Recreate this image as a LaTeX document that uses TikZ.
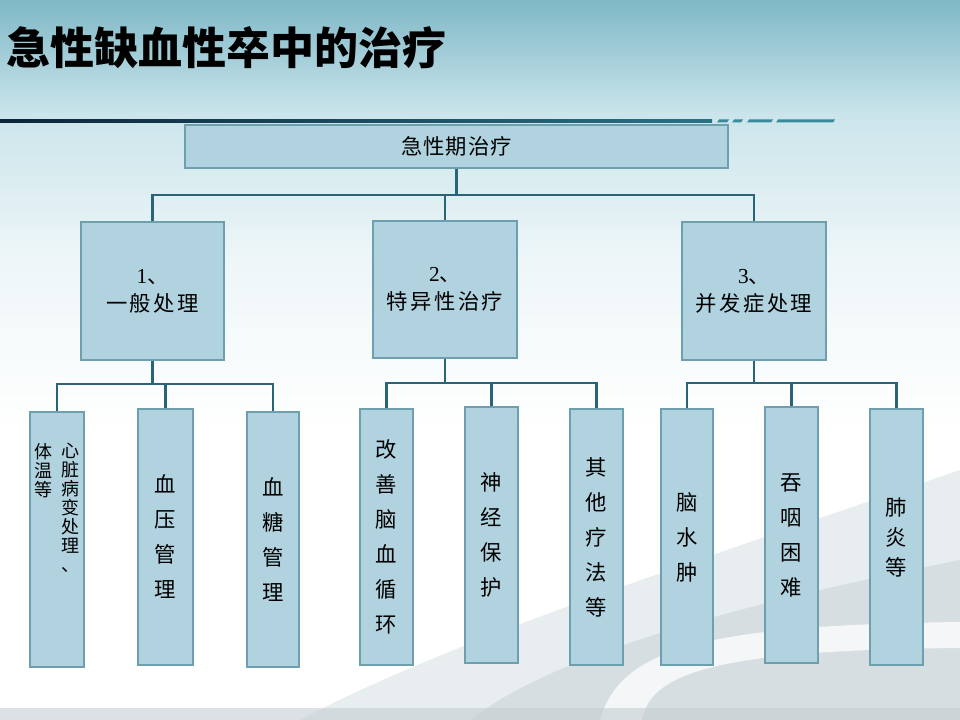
\documentclass[tikz,border=0pt]{standalone}
\usepackage{fontspec}
\setmainfont{Liberation Serif}
\newfontfamily\cjk{Noto Sans CJK SC}
\usetikzlibrary{calc}
\definecolor{connC}{HTML}{2A6479}
\definecolor{boxF}{HTML}{B1D3DF}
\definecolor{boxD}{HTML}{6E9FAE}
\definecolor{bgA}{HTML}{EEF6F8}
\definecolor{bgB}{HTML}{CBE5EB}
\definecolor{bgC}{HTML}{7FB8C7}
\definecolor{tlA}{HTML}{0D2438}
\definecolor{tlB}{HTML}{2A7186}
\definecolor{dashC}{HTML}{3A8A9E}
\definecolor{swA}{HTML}{E8EDEF}
\definecolor{swB}{HTML}{D7DEE1}
\definecolor{swC}{HTML}{C5CED2}
\pgfdeclareverticalshading{bgsh}{100bp}{color(0bp)=(white); color(45bp)=(white); color(57bp)=(bgA); color(67bp)=(bgB); color(75bp)=(bgC); color(100bp)=(bgC)}
\newcommand\gp{\kern1.8pt}
\newcommand\bx[7]{\node[box, #2, minimum width={(#5-#3)*0.75pt}, minimum height={(#6-#4)*0.75pt}] (#1) at ({(#3+#5)/2},{(#4+#6)/2}) {#7};}
\tikzset{
  box/.style={draw=boxD, fill=boxF, line width=0.8pt, inner sep=0pt, align=center,
              font=\cjk\fontsize{16}{26.25}\selectfont},
  lvone/.style={font=\cjk\fontsize{16}{21}\selectfont},
  lvtight/.style={font=\cjk\fontsize{16}{22.5}\selectfont},
  plain/.style={},
  conn/.style={draw=connC, line width=2pt},
  coltext/.style={font=\cjk\fontsize{13.5}{14.25}\selectfont, align=center, inner sep=0pt, anchor=north},
}
\begin{document}
\begin{tikzpicture}[x=0.75pt,y=-0.75pt]
\useasboundingbox (0,0) rectangle (960,720);
% background
\shade[shading=bgsh] (0,0) rectangle (960,720);
\fill[swA] (300,720) .. controls (450,640) and (700,560) .. (960,470) -- (960,720) -- cycle;
\fill[swB] (470,720) .. controls (560,650) and (760,600) .. (960,560) -- (960,720) -- cycle;
\fill[white, opacity=0.75] (600,720) .. controls (620,650) and (700,625) .. (960,622) -- (960,648) .. controls (720,650) and (650,672) .. (642,720) -- cycle;
\fill[swC, opacity=0.6] (0,708) rectangle (960,720);
% title and rule
\node[font=\cjk\bfseries\fontsize{33}{33}\selectfont, inner sep=0pt] (title) at (227,48) {急性缺血性卒中的治疗};
\shade[left color=tlA, right color=tlB] (0,119.5) rectangle (712,122.5);
\fill[dashC] (719,119.5) -- (729,119.5) -- (727,122.5) -- (717,122.5) -- cycle;
\fill[dashC] (734,119.5) -- (743,119.5) -- (741,122.5) -- (732,122.5) -- cycle;
\fill[dashC] (749,119.5) -- (773,119.5) -- (771,122.5) -- (747,122.5) -- cycle;
\fill[dashC] (778,119.5) -- (835,119.5) -- (833,122.5) -- (776,122.5) -- cycle;
% boxes
\bx{top}{plain}{185}{125}{728}{168}{急\kern0.8pt 性\kern0.8pt 期\kern0.8pt 治\kern0.8pt 疗}
\bx{l1}{lvone}{81}{222}{224}{360}{{\rmfamily 1}、\\一\gp 般\gp 处\gp 理}
\bx{l2}{lvone}{373}{221}{517}{358}{{\rmfamily 2}、\\特\gp 异\gp 性\gp 治\gp 疗}
\bx{l3}{lvone}{682}{222}{826}{360}{{\rmfamily 3}、\\并\gp 发\gp 症\gp 处\gp 理}
\bx{a}{plain}{30}{412}{84}{667}{}
\bx{b}{plain}{138}{409}{193}{665}{血\\压\\管\\理}
\bx{c}{plain}{247}{412}{299}{667}{血\\糖\\管\\理}
\bx{d}{plain}{360}{409}{413}{665}{改\\善\\脑\\血\\循\\环}
\bx{e}{plain}{465}{407}{518}{663}{神\\经\\保\\护}
\bx{f}{plain}{570}{409}{623}{665}{其\\他\\疗\\法\\等}
\bx{g}{plain}{661}{409}{713}{665}{脑\\水\\肿}
\bx{h}{plain}{765}{407}{818}{663}{吞\\咽\\困\\难}
\bx{i}{lvtight}{870}{409}{923}{665}{肺\\炎\\等}
\node[coltext] (atxtR) at (70,443) {心\\脏\\病\\变\\处\\理\\、};
\node[coltext] (atxtL) at (43,443) {体\\温\\等};
% connectors
\coordinate (bus1) at (0,195);
\coordinate (busA) at (0,384);
\coordinate (busB) at (0,383);
\coordinate (busC) at (0,383);
\draw[conn] (top.south) -- (top.south |- bus1);
\draw[conn] (l1.north) -- (l1.north |- bus1) -- (l3.north |- bus1) -- (l3.north);
\draw[conn] (l2.north) -- (l2.north |- bus1);
\draw[conn] (l1.south) -- (l1.south |- busA);
\draw[conn] (a.north) -- (a.north |- busA) -- (c.north |- busA) -- (c.north);
\draw[conn] (b.north) -- (b.north |- busA);
\draw[conn] (l2.south) -- (l2.south |- busB);
\draw[conn] (d.north) -- (d.north |- busB) -- (f.north |- busB) -- (f.north);
\draw[conn] (e.north) -- (e.north |- busB);
\draw[conn] (l3.south) -- (l3.south |- busC);
\draw[conn] (g.north) -- (g.north |- busC) -- (i.north |- busC) -- (i.north);
\draw[conn] (h.north) -- (h.north |- busC);
\end{tikzpicture}
\end{document}
